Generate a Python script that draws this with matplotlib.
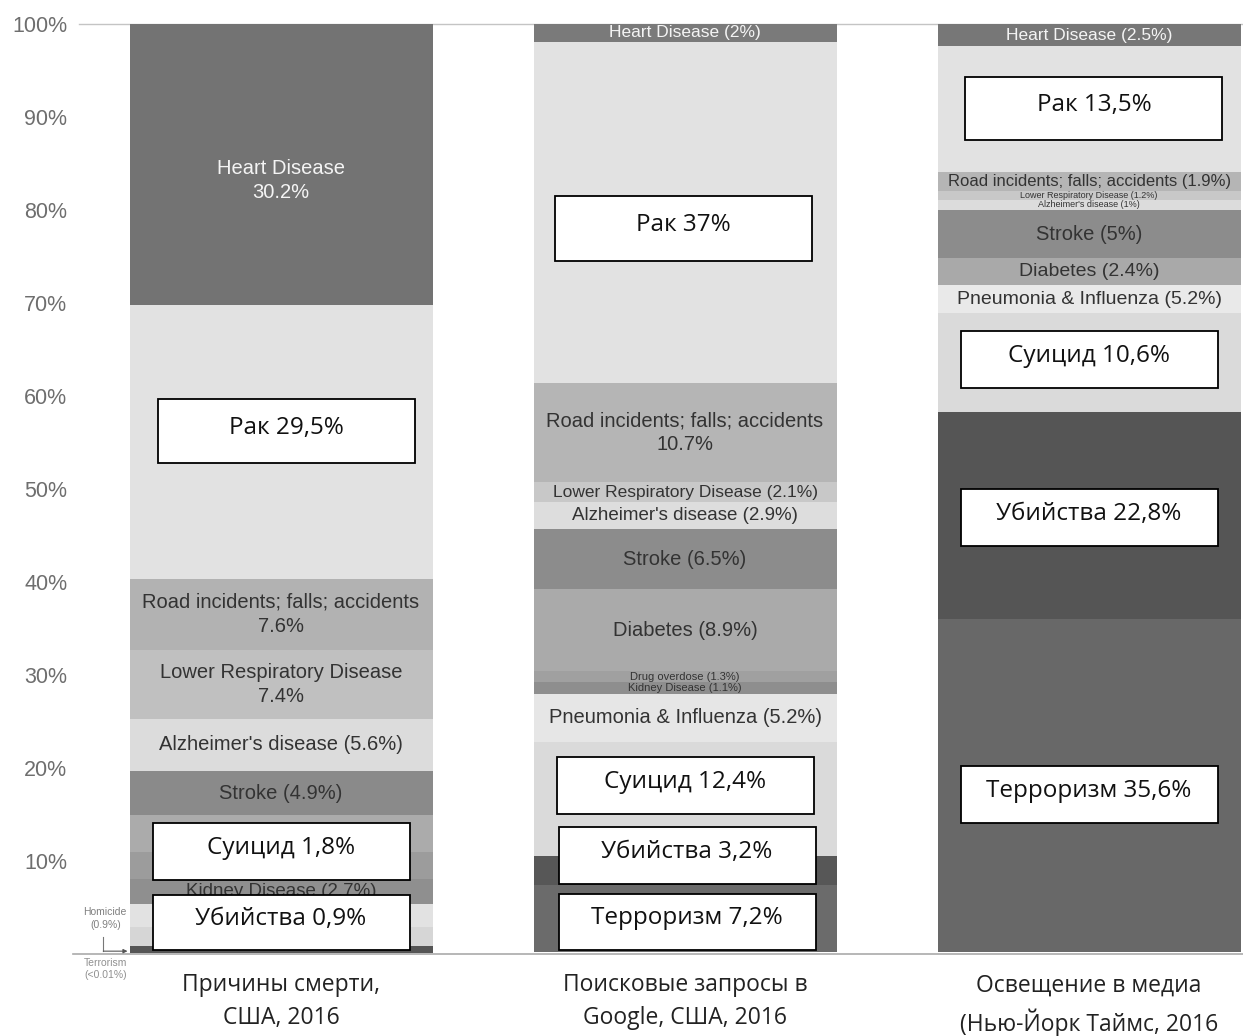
import matplotlib.pyplot as plt
from matplotlib.patches import Rectangle
import numpy as np

# ----------------------
# данные: доли сегментов сверху вниз (в %)
# ----------------------
groups = ["Причины смерти,\nСША, 2016",
          "Поисковые запросы в\nGoogle, США, 2016",
          "Освещение в медиа\n(Нью-Йорк Таймс, 2016"]

death_values = [30.2, 29.5, 7.6, 7.4, 5.6, 4.8, 3.9, 2.9, 2.7, 2.5, 2.0, 0.8, 0.01]
death_labels = ["Heart Disease\n30.2%", "", "Road incidents; falls; accidents\n7.6%",
                "Lower Respiratory Disease\n7.4%", "Alzheimer's disease (5.6%)",
                "Stroke (4.9%)", "", "", "Kidney Disease (2.7%)", "", "", "", ""]

google_values = [1.9, 36.7, 10.7, 2.1, 2.9, 6.5, 8.8, 1.2, 1.2, 5.2, 12.3, 3.1, 7.2]
google_labels = ["Heart Disease (2%)", "", "Road incidents; falls; accidents\n10.7%",
                 "Lower Respiratory Disease (2.1%)", "Alzheimer's disease (2.9%)",
                 "Stroke (6.5%)", "Diabetes (8.9%)", "Drug overdose (1.3%)",
                 "Kidney Disease (1.1%)", "Pneumonia & Influenza (5.2%)", "", "", ""]

media_values = [2.4, 13.5, 2.1, 0.9, 1.1, 5.2, 2.9, 3.0, 10.6, 22.3, 35.8]
media_labels = ["Heart Disease (2.5%)", "", "Road incidents; falls; accidents (1.9%)",
                "Lower Respiratory Disease (1.2%)", "Alzheimer's disease (1%)",
                "Stroke (5%)", "Diabetes (2.4%)", "Pneumonia & Influenza (5.2%)",
                "", "", ""]

# подписи в белых рамках (русские)
box_texts = [["Рак 29,5%", "Суицид 1,8%", "Убийства 0,9%"],
             ["Рак 37%", "Суицид 12,4%", "Убийства 3,2%", "Терроризм 7,2%"],
             ["Рак 13,5%", "Суицид 10,6%", "Убийства 22,8%", "Терроризм 35,6%"]]

# ----------------------
# стиль
# ----------------------
death_colors = ["#737373", "#e2e2e2", "#b2b2b2", "#c0c0c0", "#dcdcdc", "#8a8a8a",
                "#ababab", "#9c9c9c", "#8f8f8f", "#e2e2e2", "#d6d6d6", "#555555", "#555555"]
google_colors = ["#7a7a7a", "#e2e2e2", "#b5b5b5", "#c8c8c8", "#dddddd", "#8c8c8c",
                 "#aaaaaa", "#a0a0a0", "#8e8e8e", "#e6e6e6", "#dadada", "#575757", "#6b6b6b"]
media_colors = ["#777777", "#e2e2e2", "#b5b5b5", "#c8c8c8", "#dcdcdc", "#8c8c8c",
                "#a9a9a9", "#e9e9e9", "#dadada", "#555555", "#686868"]

death_sizes = [14.5, 0, 14.5, 14.5, 14.5, 14.5, 0, 0, 13.5, 0, 0, 0, 0]
google_sizes = [12.5, 0, 14.5, 12.5, 13.5, 14.5, 14.5, 8, 8, 14.5, 0, 0, 0]
media_sizes = [12.5, 0, 12, 6.5, 6.5, 14.5, 14, 14, 0, 0, 0]

# сдвиг подписи "Heart Disease 30.2%" вниз
label_dy = {(0, 0): -1.7}

# позиции рамок: (смещение x от центра столбца, центр y в %, высота в %)
box_pos = [[(0.014, 56.2, 6.9), (0.0, 11.0, 6.1), (0.0, 3.4, 5.9)],
           [(-0.005, 78.0, 6.9), (0.0, 18.1, 6.1), (0.005, 10.6, 6.1), (0.005, 3.45, 6.0)],
           [(0.012, 90.9, 6.8), (0.0, 63.9, 6.2), (0.0, 46.9, 6.1), (0.0, 17.15, 6.1)]]
box_w = 0.636

plt.rcParams["font.family"] = ["Liberation Sans", "DejaVu Sans"]
ru_font = ["Open Sans", "DejaVu Sans"]

fig = plt.figure(figsize=(12.43, 10.36), dpi=100)
ax = fig.add_axes([0.0587, 0.0792, 0.9413, 0.8977])

x = np.arange(3)
bar_w = 0.75
all_values = [death_values, google_values, media_values]
all_labels = [death_labels, google_labels, media_labels]
all_colors = [death_colors, google_colors, media_colors]
all_sizes = [death_sizes, google_sizes, media_sizes]

for i in range(3):
    vals = np.array(all_values[i])
    bottoms = 100 - np.cumsum(vals)
    ax.bar(x[i], vals, bottom=bottoms, width=bar_w, color=all_colors[i],
           edgecolor="none", zorder=2)
    for j, (v, b, lab, fs) in enumerate(zip(vals, bottoms, all_labels[i], all_sizes[i])):
        if not lab:
            continue
        tc = "#f4f4f4" if j == 0 else "#333333"
        ax.text(x[i], b + v / 2 + label_dy.get((i, j), 0), lab, ha="center",
                va="center", fontsize=fs, color=tc, linespacing=1.35, zorder=3)

    # белые рамки с русскими подписями
    for txt, (dx, cy, h) in zip(box_texts[i], box_pos[i]):
        ax.add_patch(Rectangle((x[i] + dx - box_w / 2, cy - h / 2), box_w, h,
                               facecolor="white", edgecolor="black", lw=1.3, zorder=4))
        ax.text(x[i] + dx, cy + 0.4, txt, ha="center", va="center", fontsize=17.5,
                family=ru_font, color="#111111", zorder=5)

    ax.text(x[i], -2.1, groups[i], ha="center", va="top", fontsize=16.5,
            family=ru_font, color="#222222", linespacing=1.5)

# мелкие пояснения слева от первого столбца
ax.text(-0.435, 3.8, "Homicide\n(0.9%)", ha="center", va="center", fontsize=7.5,
        color="#808080", linespacing=1.3)
ax.plot([-0.44, -0.44], [1.8, 0.3], color="#777777", lw=0.8, zorder=3)
ax.annotate("", xy=(-0.38, 0.3), xytext=(-0.44, 0.3),
            arrowprops=dict(arrowstyle="-|>", color="#555555", lw=0.8,
                            mutation_scale=6, shrinkA=0, shrinkB=0), zorder=3)
ax.text(-0.435, -1.6, "Terrorism\n(<0.01%)", ha="center", va="center", fontsize=7.5,
        color="#909090", linespacing=1.3)

# оси
ax.axhline(100, xmin=0.005, color="#c4c4c4", lw=1, zorder=1, clip_on=False)
ax.set_xlim(-0.515, 2.381)
ax.set_ylim(0, 100)
ax.set_yticks(np.arange(10, 101, 10))
ax.set_yticklabels([f"{t}%" for t in range(10, 101, 10)])
ax.tick_params(axis="y", length=0, pad=4, labelsize=15.5, labelcolor="#6e6e6e")
ax.set_xticks([])
for s in ["left", "right", "top"]:
    ax.spines[s].set_visible(False)
ax.spines["bottom"].set_color("#aaaaaa")
ax.spines["bottom"].set_linewidth(1.2)

plt.savefig("out.png", dpi=100)
plt.close()
